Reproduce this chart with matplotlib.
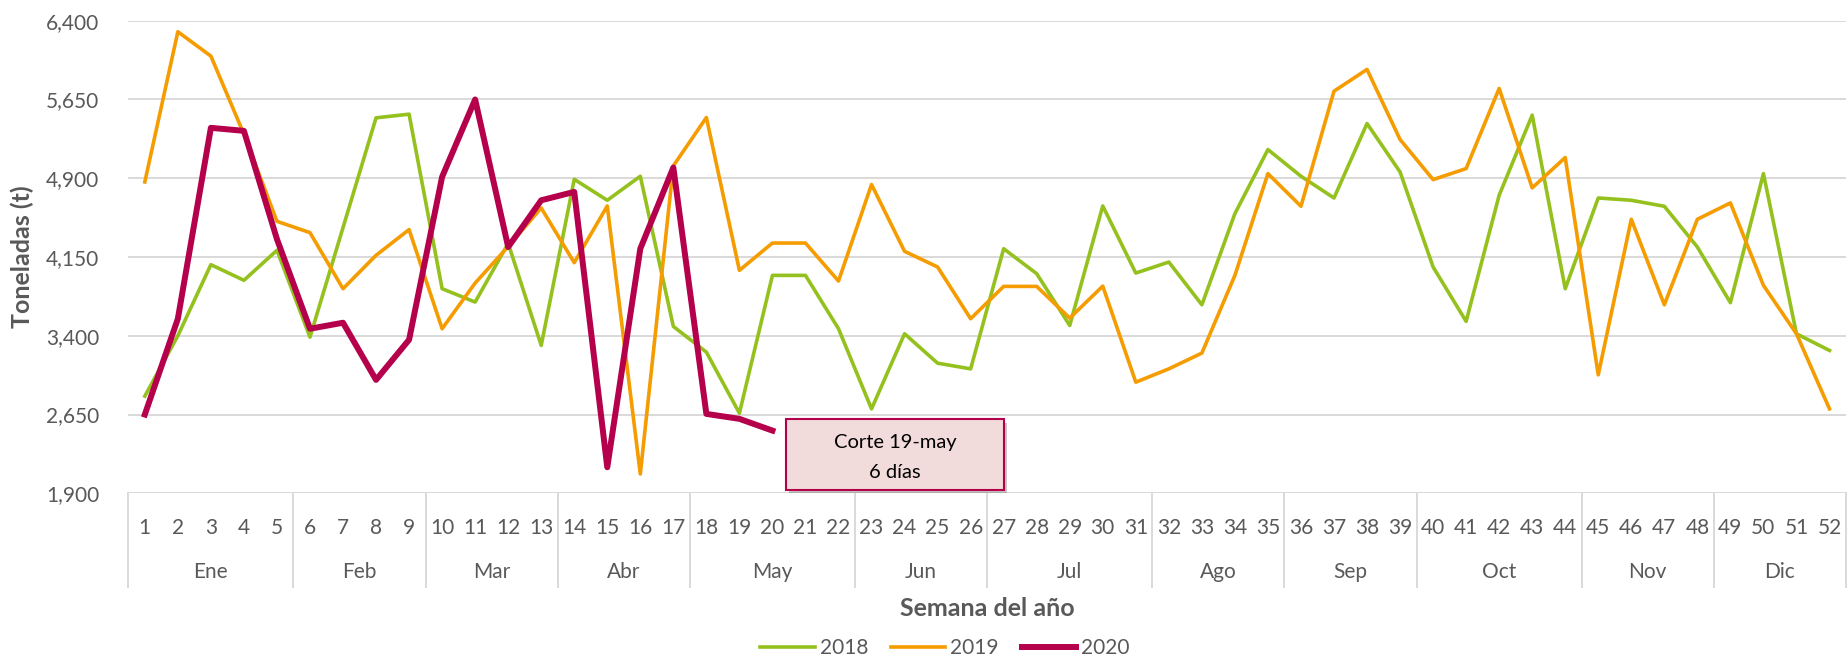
import matplotlib
matplotlib.use("Agg")
import matplotlib.pyplot as plt
import matplotlib.patheffects as pe
from matplotlib.patches import Rectangle
from matplotlib.ticker import FuncFormatter
import numpy as np

plt.rcParams['font.family'] = ['Lato', 'DejaVu Sans']

# datos semanales (toneladas)
semanas = list(range(1, 53))
t2018 = [2825, 3400, 4077, 3928, 4214, 3387, 4430, 5475, 5510, 3848,
         3721, 4280, 3308, 4890, 4690, 4919, 3489, 3244, 2663, 3975,
         3975, 3467, 2704, 3419, 3139, 3085, 4229, 3991, 3498, 4636,
         3997, 4102, 3695, 4563, 5173, 4919, 4712, 5421, 4960, 4055,
         3537, 4738, 5501, 3848, 4712, 4690, 4633, 4245, 3715, 4944,
         3419, 3260]
t2019 = [4865, 6295, 6063, 5320, 4490, 4382, 3848, 4166, 4411, 3467,
         3902, 4250, 4617, 4096, 4636, 2084, 5018, 5478, 4023, 4283,
         4283, 3921, 4840, 4204, 4055, 3562, 3870, 3870, 3568, 3873,
         2958, 3085, 3235, 3975, 4944, 4633, 5729, 5936, 5269, 4887,
         4992, 5755, 4808, 5097, 3028, 4509, 3695, 4509, 4665, 3880,
         3419, 2704]
t2020 = [2650, 3562, 5380, 5351, 4320, 3467, 3524, 2980, 3362, 4913,
         5650, 4245, 4690, 4770, 2148, 4229, 5002, 2656, 2609, 2497]

meses = ['Ene', 'Feb', 'Mar', 'Abr', 'May', 'Jun', 'Jul', 'Ago', 'Sep', 'Oct', 'Nov', 'Dic']
sem_por_mes = [5, 4, 4, 4, 5, 4, 5, 4, 4, 5, 4, 4]

yticks = [1900, 2650, 3400, 4150, 4900, 5650, 6400]
nota = ['Corte 19-may', '6 días']

gris = '#595959'
c18 = '#95C11F'
c19 = '#F59C00'
c20 = '#B5004B'

fig = plt.figure(figsize=(18.47, 6.58), dpi=100)
ax = fig.add_axes([128.3 / 1847, 1 - 493.3 / 658, (1846 - 128.3) / 1847, (493.3 - 20.7) / 658])

ax.plot(semanas, t2018, color=c18, lw=2.6, label='2018', zorder=3)
ax.plot(semanas, t2019, color=c19, lw=2.6, label='2019', zorder=4)
ax.plot(semanas[:len(t2020)], t2020, color=c20, lw=4.3, label='2020', zorder=5)

ax.set_xlim(0.5, 52.5)
ax.set_ylim(1900, 6400)
ax.set_yticks(yticks)
ax.yaxis.set_major_formatter(FuncFormatter(lambda v, p: f'{int(v):,}'))
ax.grid(axis='y', color='#D9D9D9', lw=1.4, zorder=0)
for s in ax.spines.values():
    s.set_visible(False)
ax.tick_params(axis='y', length=0, pad=21, labelsize=15, labelcolor=gris)
ax.set_xticks(semanas)
ax.set_xticklabels([str(s) for s in semanas])
ax.tick_params(axis='x', length=0, pad=18, labelsize=15, labelcolor=gris)

# eje de categorias de dos niveles
tr = matplotlib.transforms.blended_transform_factory(ax.transData, ax.transAxes)
lim = 0.5
bordes = [lim]
for n in sem_por_mes:
    lim += n
    bordes.append(lim)
for b in bordes:
    ax.plot([b, b], [0, -93.5 / 472.6], transform=tr, color='#D9D9D9', lw=1.4, clip_on=False)
for i, m in enumerate(meses):
    xc = (bordes[i] + bordes[i + 1]) / 2
    ax.text(xc, -78.5 / 472.6, m, transform=tr, ha='center', va='center', fontsize=15, color=gris)

ax.set_ylabel('Toneladas (t)', fontsize=18, fontweight='bold', color=gris)
ax.yaxis.set_label_coords(-94 / 1717.7, 0.5)
fig.text(987 / 1847, 1 - 608 / 658, 'Semana del año', ha='center', va='center',
         fontsize=18, fontweight='bold', color=gris)

# cuadro de corte
caja = Rectangle((0.3829, 0.0064), 0.1270, 0.1503, transform=ax.transAxes,
                 facecolor='#F2DCDB', edgecolor=c20, lw=1.5, zorder=6,
                 path_effects=[pe.SimplePatchShadow(offset=(2, -3), alpha=0.3), pe.Normal()])
ax.add_patch(caja)
ax.text(0.4464, 0.107, nota[0], transform=ax.transAxes, ha='center',
        va='center', fontsize=14.5, color='black', zorder=7)
ax.text(0.4464, 0.0436, nota[1], transform=ax.transAxes, ha='center',
        va='center', fontsize=14.5, color='black', zorder=7)

leg = fig.legend(loc='center', bbox_to_anchor=(945 / 1847, 1 - 648 / 658), ncol=3,
                 frameon=False, fontsize=15, handlelength=2.6, handletextpad=0.25,
                 columnspacing=1.1)
for t in leg.get_texts():
    t.set_color(gris)

fig.savefig('out.png', dpi=100)
